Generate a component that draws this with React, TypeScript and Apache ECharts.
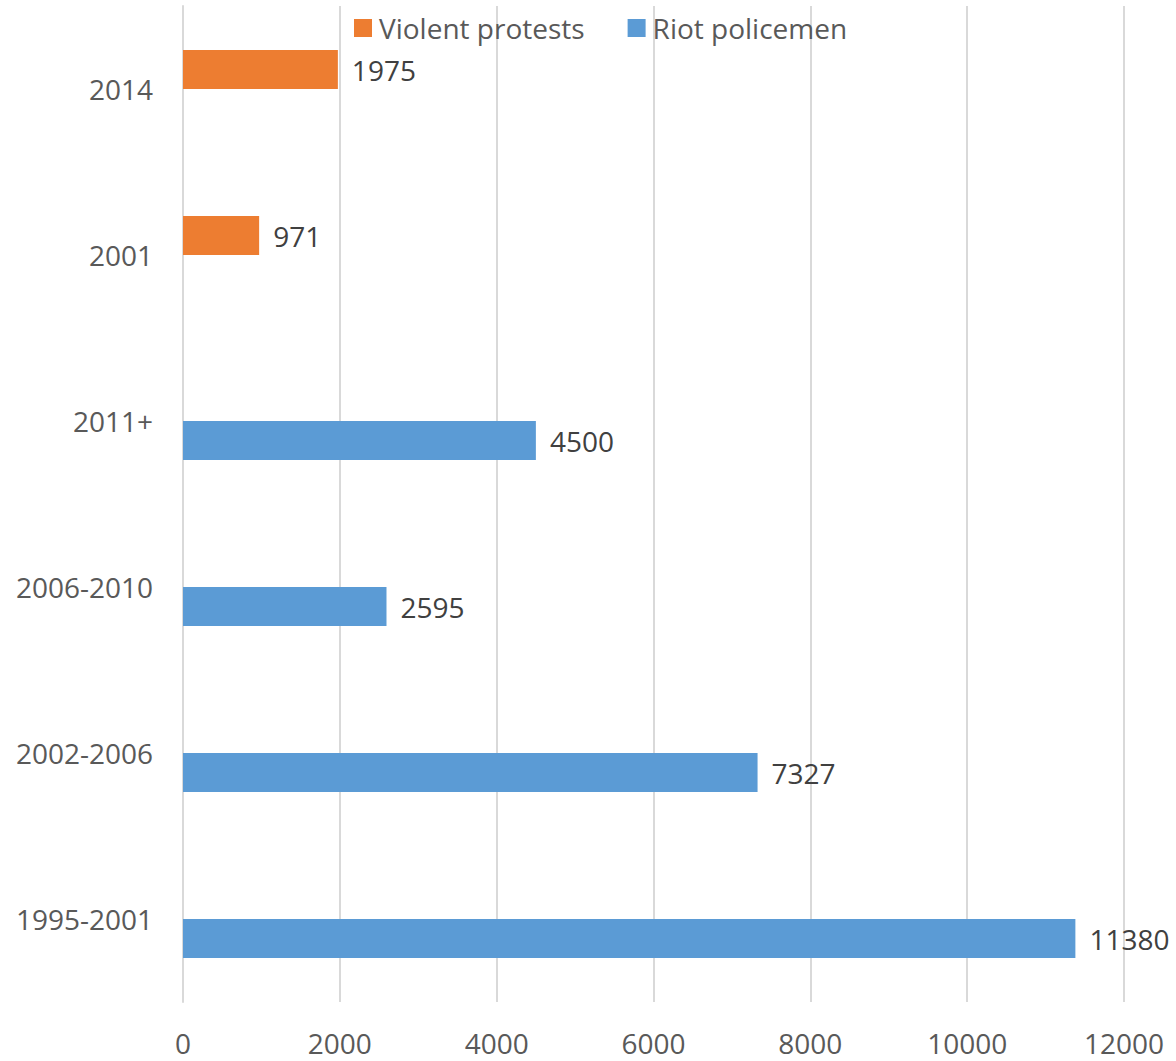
import React, { useEffect, useRef } from "react";
import * as echarts from "echarts";

const categories = ["1995-2001", "2002-2006", "2006-2010", "2011+", "2001", "2014"];
const violentProtests = [null, null, null, null, 971, 1975];
const riotPolicemen = [11380, 7327, 2595, 4500, null, null];
const xTicks = { min: 0, max: 12000, interval: 2000 };

const FONT = "Open Sans";
const FS = 28;

export default function App() {
  const ref = useRef<HTMLDivElement>(null);
  useEffect(() => {
    const chart = echarts.init(ref.current!, null, { renderer: "svg" });
    const labelStyle = {
      show: true,
      position: "right",
      distance: 14,
      color: "#404040",
      fontSize: FS,
      fontFamily: FONT,
    };
    chart.setOption({
      animation: false,
      legend: {
        top: 14,
        left: 354,
        padding: 0,
        itemWidth: 18,
        itemHeight: 18,
        itemGap: 43,
        icon: "rect",
        textStyle: { color: "#595959", fontSize: FS, fontFamily: FONT, padding: [0, 0, 0, 2] },
        data: ["Violent protests", "Riot policemen"],
      },
      grid: { left: 183, right: 52, top: 6, bottom: 59, containLabel: false },
      xAxis: {
        type: "value",
        min: xTicks.min,
        max: xTicks.max,
        interval: xTicks.interval,
        axisLine: { show: false },
        axisTick: { show: false },
        axisLabel: {
          color: "#595959",
          fontSize: FS,
          fontFamily: FONT,
          margin: 27,
          formatter: (v: number) => String(v),
        },
        splitLine: { lineStyle: { color: "#d9d9d9", width: 2 } },
      },
      yAxis: {
        type: "category",
        data: categories,
        axisLine: { show: true, lineStyle: { color: "#d9d9d9", width: 2 } },
        axisTick: { show: false },
        axisLabel: { color: "#595959", fontSize: FS, fontFamily: FONT, margin: 30 },
      },
      series: [
        {
          name: "Violent protests",
          type: "bar",
          data: violentProtests,
          barWidth: 39,
          barGap: "0%",
          itemStyle: { color: "#ed7d31" },
          label: labelStyle,
        },
        {
          name: "Riot policemen",
          type: "bar",
          data: riotPolicemen,
          barWidth: 39,
          barGap: "0%",
          itemStyle: { color: "#5b9bd5" },
          label: labelStyle,
        },
      ],
    });
    return () => chart.dispose();
  }, []);
  return <div ref={ref} style={{ width: 1176, height: 1061, position: "absolute", left: 0, top: 0 }} />;
}
